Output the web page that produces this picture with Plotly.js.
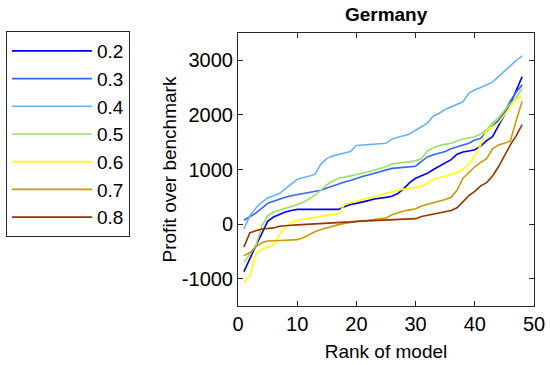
<!DOCTYPE html>
<html>
<head>
<meta charset="utf-8">
<script src="https://cdn.plot.ly/plotly-3.0.1.min.js"></script>
<style>html,body{margin:0;padding:0;background:#fff;}#chart{width:550px;height:365px;}</style>
</head>
<body>
<div id="chart"></div>
<script>
const rank = Array.from({length: 48}, (_, i) => i + 1);
const seriesNames = ['0.2', '0.3', '0.4', '0.5', '0.6', '0.7', '0.8'];
const colors = ['#0000ff', '#3366ff', '#66b2ff', '#99e066', '#ffff00', '#cc9900', '#993300'];

const s02 = [-870,-620,-400,-180,50,130,180,220,250,270,270,270,270,270,270,270,270,320,360,380,400,430,460,470,490,510,560,650,760,840,880,930,1000,1060,1120,1180,1280,1320,1340,1360,1430,1530,1600,1800,2000,2200,2450,2700];
const s03 = [70,130,200,290,380,420,460,490,520,540,560,580,600,620,660,700,730,770,800,840,870,900,930,970,1000,1020,1030,1040,1050,1060,1150,1230,1270,1300,1330,1380,1420,1450,1480,1540,1570,1700,1800,1900,2050,2250,2420,2550];
const s04 = [-90,150,290,400,480,520,560,650,730,820,850,880,910,1100,1200,1250,1280,1310,1330,1440,1450,1460,1460,1470,1480,1560,1590,1620,1650,1720,1780,1850,1980,2030,2100,2150,2200,2240,2400,2460,2500,2550,2600,2700,2800,2910,3000,3080];
const s05 = [-700,-550,-400,-50,150,220,260,290,320,360,400,460,530,620,720,790,840,860,880,900,930,960,990,1020,1050,1100,1120,1130,1140,1160,1200,1340,1400,1440,1460,1480,1520,1560,1580,1600,1650,1730,1850,1950,2080,2200,2320,2480];
const s06 = [-1070,-950,-550,-460,-420,-380,-200,-50,30,70,90,110,130,145,160,175,190,360,390,420,440,470,500,540,560,600,620,640,660,670,690,750,820,850,880,910,940,1000,1100,1250,1450,1720,1790,1850,2000,2150,2300,2330];
const s07 = [-580,-520,-420,-340,-310,-300,-300,-295,-290,-285,-250,-190,-140,-100,-70,-30,-10,10,30,50,60,70,80,90,110,170,210,240,260,280,330,360,380,420,450,490,620,840,940,1050,1130,1200,1380,1450,1480,1520,1900,2250];
const s08 = [-420,-160,-120,-90,-80,-70,-40,-25,-20,-15,-10,-5,0,5,10,15,20,30,40,50,55,60,70,75,85,90,90,95,95,100,140,160,180,200,220,250,300,420,520,600,700,760,880,1050,1250,1450,1620,1820];

const allSeries = [s02, s03, s04, s05, s06, s07, s08];
const xTicks = [0, 10, 20, 30, 40, 50];
const yTicks = [-1000, 0, 1000, 2000, 3000];

const FONT = 'Liberation Sans, Arial, Helvetica, sans-serif';

const traces = allSeries.map((ys, k) => ({
  x: rank,
  y: ys,
  type: 'scatter',
  mode: 'lines',
  name: seriesNames[k],
  line: {color: colors[k], width: 1.6},
  legendgroup: 'g' + k
}));

const axisCommon = {
  showline: true,
  linecolor: '#262626',
  linewidth: 1,
  mirror: 'ticks',
  ticks: 'inside',
  ticklen: 5,
  tickcolor: '#262626',
  showgrid: false,
  zeroline: false,
  tickfont: {family: FONT, size: 20, color: '#000'}
};

const layout = {
  width: 550,
  height: 365,
  margin: {l: 238, r: 16, t: 33, b: 59, autoexpand: false},
  paper_bgcolor: '#fff',
  plot_bgcolor: '#fff',
  font: {family: FONT, size: 19, color: '#000'},
  title: {
    text: '<b>Germany</b>',
    font: {family: FONT, size: 19, color: '#000'},
    x: 0.702, xanchor: 'center',
    y: 0.962, yanchor: 'middle'
  },
  xaxis: Object.assign({}, axisCommon, {
    automargin: false,
    range: [0, 50],
    tickvals: xTicks,
    ticktext: xTicks.map(String),
    title: {text: 'Rank of model', font: {family: FONT, size: 19, color: '#000'}, standoff: 10}
  }),
  yaxis: Object.assign({}, axisCommon, {
    automargin: true,
    range: [-1500, 3500],
    tickvals: yTicks,
    ticktext: yTicks.map(String),
    title: {text: 'Profit over benchmark', font: {family: FONT, size: 19, color: '#000'}, standoff: 0}
  }),
  showlegend: true,
  legend: {
    xref: 'container', yref: 'container',
    x: 0.0109, xanchor: 'left',
    y: 0.915, yanchor: 'top',
    bordercolor: '#262626',
    borderwidth: 1,
    bgcolor: '#fff',
    font: {family: FONT, size: 19, color: '#000'},
    itemwidth: 80,
    tracegroupgap: 0,
    maxheight: 320
  }
};

Plotly.newPlot('chart', traces, layout, {displayModeBar: false, staticPlot: true});
</script>
</body>
</html>
